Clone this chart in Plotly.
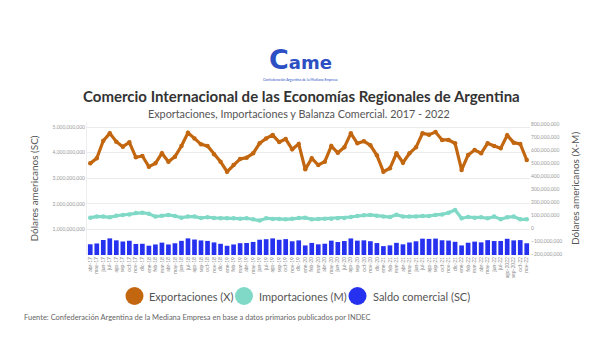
import plotly.graph_objects as go

months = [
    "abr-17", "may-17", "jun-17", "jul-17", "ago-17", "sep-17", "oct-17", "nov-17", "dic-17",
    "ene-18", "feb-18", "mar-18", "abr-18", "may-18", "jun-18", "jul-18", "ago-18", "sep-18", "oct-18", "nov-18", "dic-18",
    "ene-19", "feb-19", "mar-19", "abr-19", "may-19", "jun-19", "jul-19", "ago-19", "sep-19", "oct-19", "nov-19", "dic-19",
    "ene-20", "feb-20", "mar-20", "abr-20", "may-20", "jun-20", "jul-20", "ago-20", "sep-20", "oct-20", "nov-20", "dic-20",
    "ene-21", "feb-21", "mar-21", "abr-21", "may-21", "jun-21", "jul-21", "ago-21", "sep-21", "oct-21", "nov-21", "dic-21",
    "ene-22", "feb-22", "mar-22", "abr-22", "may-22", "jun-22", "jul-22", "ago-2022", "sep-2022", "oct-22", "nov-22",
]

# millones de USD
exports_musd = [500, 539, 675, 732, 668, 629, 663, 547, 557,
                474, 500, 578, 513, 552, 634, 737, 693, 647, 634, 570, 513,
                436, 487, 534, 544, 578, 655, 693, 719, 665, 688, 609, 650,
                454, 539, 487, 513, 634, 582, 624, 732, 655, 671, 640, 562,
                435, 462, 578, 505, 578, 624, 732, 722, 742, 681, 681, 655,
                449, 565, 603, 578, 655, 634, 616, 717, 660, 650, 526]

imports_musd = [80, 88, 88, 83, 95, 101, 105, 115, 118,
                110, 88, 95, 101, 93, 80, 88, 88, 78, 83, 78, 75,
                75, 75, 72, 75, 67, 57, 75, 70, 70, 67, 72, 78,
                80, 67, 70, 72, 72, 75, 78, 85, 93, 98, 101, 95,
                88, 85, 103, 88, 88, 88, 93, 93, 101, 105, 118, 139,
                75, 85, 80, 83, 75, 88, 67, 83, 88, 67, 67]

saldo_musd = [420, 451, 587, 649, 573, 528, 558, 432, 439,
              364, 412, 483, 412, 459, 554, 649, 605, 569, 551, 492, 438,
              361, 412, 462, 469, 511, 598, 618, 649, 595, 621, 537, 572,
              374, 472, 417, 441, 562, 507, 546, 647, 562, 573, 539, 467,
              347, 377, 475, 417, 490, 536, 639, 629, 641, 576, 563, 516,
              374, 480, 523, 495, 580, 546, 549, 634, 572, 583, 459]

left_ticks = [1e9, 2e9, 3e9, 4e9, 5e9]

C_X = "#c2660f"
C_M = "#7fd9c6"
C_SC = "#2631f0"
FONT = "Lato"

ML, MR, MT, MB = 87, 70, 122, 105
W, H = 600, 360

fig = go.Figure()
fig.add_trace(go.Bar(x=months, y=[v * 1e6 for v in saldo_musd], marker=dict(color=C_SC, line=dict(width=0)),
                     name="Saldo comercial (SC)", yaxis="y", showlegend=False))
fig.add_trace(go.Scatter(x=months, y=[v * 1e6 for v in exports_musd], mode="lines+markers",
                         line=dict(color=C_X, width=3.2), marker=dict(color=C_X, size=4.5),
                         name="Exportaciones (X)", yaxis="y2", showlegend=False))
fig.add_trace(go.Scatter(x=months, y=[v * 1e6 for v in imports_musd], mode="lines+markers",
                         line=dict(color=C_M, width=3.2), marker=dict(color=C_M, size=4.5),
                         name="Importaciones (M)", yaxis="y2", showlegend=False))

fig.update_layout(
    width=W, height=H,
    margin=dict(l=ML, r=MR, t=MT, b=MB, autoexpand=False),
    paper_bgcolor="white", plot_bgcolor="white",
    font=dict(family=FONT, color="#555"),
    bargap=0.28,
    xaxis=dict(type="category", range=[-0.5, 67.5], tickangle=-90, tickfont=dict(size=5, color="#888"),
               showgrid=False, ticks="", showline=False),
    yaxis=dict(range=[0, 5.2e9], tickvals=left_ticks, tickformat=",d", tickfont=dict(size=5, color="#999"),
               gridcolor="#ececec", gridwidth=1, zeroline=False, showline=True, linecolor="#eeeeee",
               title=dict(text="Dólares americanos (SC)", font=dict(size=10, color="#555"), standoff=12)),
    yaxis2=dict(range=[-209e6, 820e6], overlaying="y", side="right", dtick=1e8, tick0=0, tickformat=",d",
                tickfont=dict(size=5, color="#999"), showgrid=False, zeroline=False,
                title=dict(text="Dólares americanos (X-M)", font=dict(size=10, color="#555"), standoff=10)),
)


def px_x(px):
    return (px - ML) / (W - ML - MR)


def px_y(py):
    return (H - MB - py) / (H - MT - MB)


anns = [
    dict(text="<b><span style='font-size:27px'>C</span>ame</b>", x=px_x(300), y=px_y(60),
         font=dict(size=18, color="#2c4fc4", family="DejaVu Sans")),
    dict(text="Confederación Argentina de la Mediana Empresa", x=px_x(300), y=px_y(79.5),
         font=dict(size=3.5, color="#2c4fc4", family=FONT)),
    dict(text="<b>Comercio Internacional de las Economías Regionales de Argentina</b>", x=px_x(301), y=px_y(96),
         font=dict(size=15, color="#333333", family=FONT)),
    dict(text="Exportaciones, Importaciones y Balanza Comercial. 2017 - 2022", x=px_x(299), y=px_y(113),
         font=dict(size=10.8, color="#555555", family=FONT)),
    dict(text="Exportaciones (X)", x=px_x(147), y=px_y(296), xanchor="left",
         font=dict(size=11, color="#555555", family=FONT)),
    dict(text="Importaciones (M)", x=px_x(257), y=px_y(296), xanchor="left",
         font=dict(size=11, color="#555555", family=FONT)),
    dict(text="Saldo comercial (SC)", x=px_x(371), y=px_y(296), xanchor="left",
         font=dict(size=11, color="#555555", family=FONT)),
    dict(text="Fuente: Confederación Argentina de la Mediana Empresa en base a datos primarios publicados por INDEC",
         x=px_x(22), y=px_y(317), xanchor="left", font=dict(size=7.5, color="#666666", family=FONT)),
]
for a in anns:
    a.update(xref="paper", yref="paper", showarrow=False)
    a.setdefault("xanchor", "center")
    a["yanchor"] = "middle"
fig.update_layout(annotations=anns)

shapes = []
for cx, col in [(134.5, C_X), (244, C_M), (357.5, C_SC)]:
    shapes.append(dict(type="circle", xref="paper", yref="paper", xsizemode="pixel", ysizemode="pixel",
                       xanchor=px_x(cx), yanchor=px_y(296), x0=-9, x1=9, y0=-9, y1=9,
                       fillcolor=col, line=dict(width=0)))
fig.update_layout(shapes=shapes)

fig.write_html("out.html", config={"displayModeBar": False},
               post_script="document.body.style.margin='0';")
